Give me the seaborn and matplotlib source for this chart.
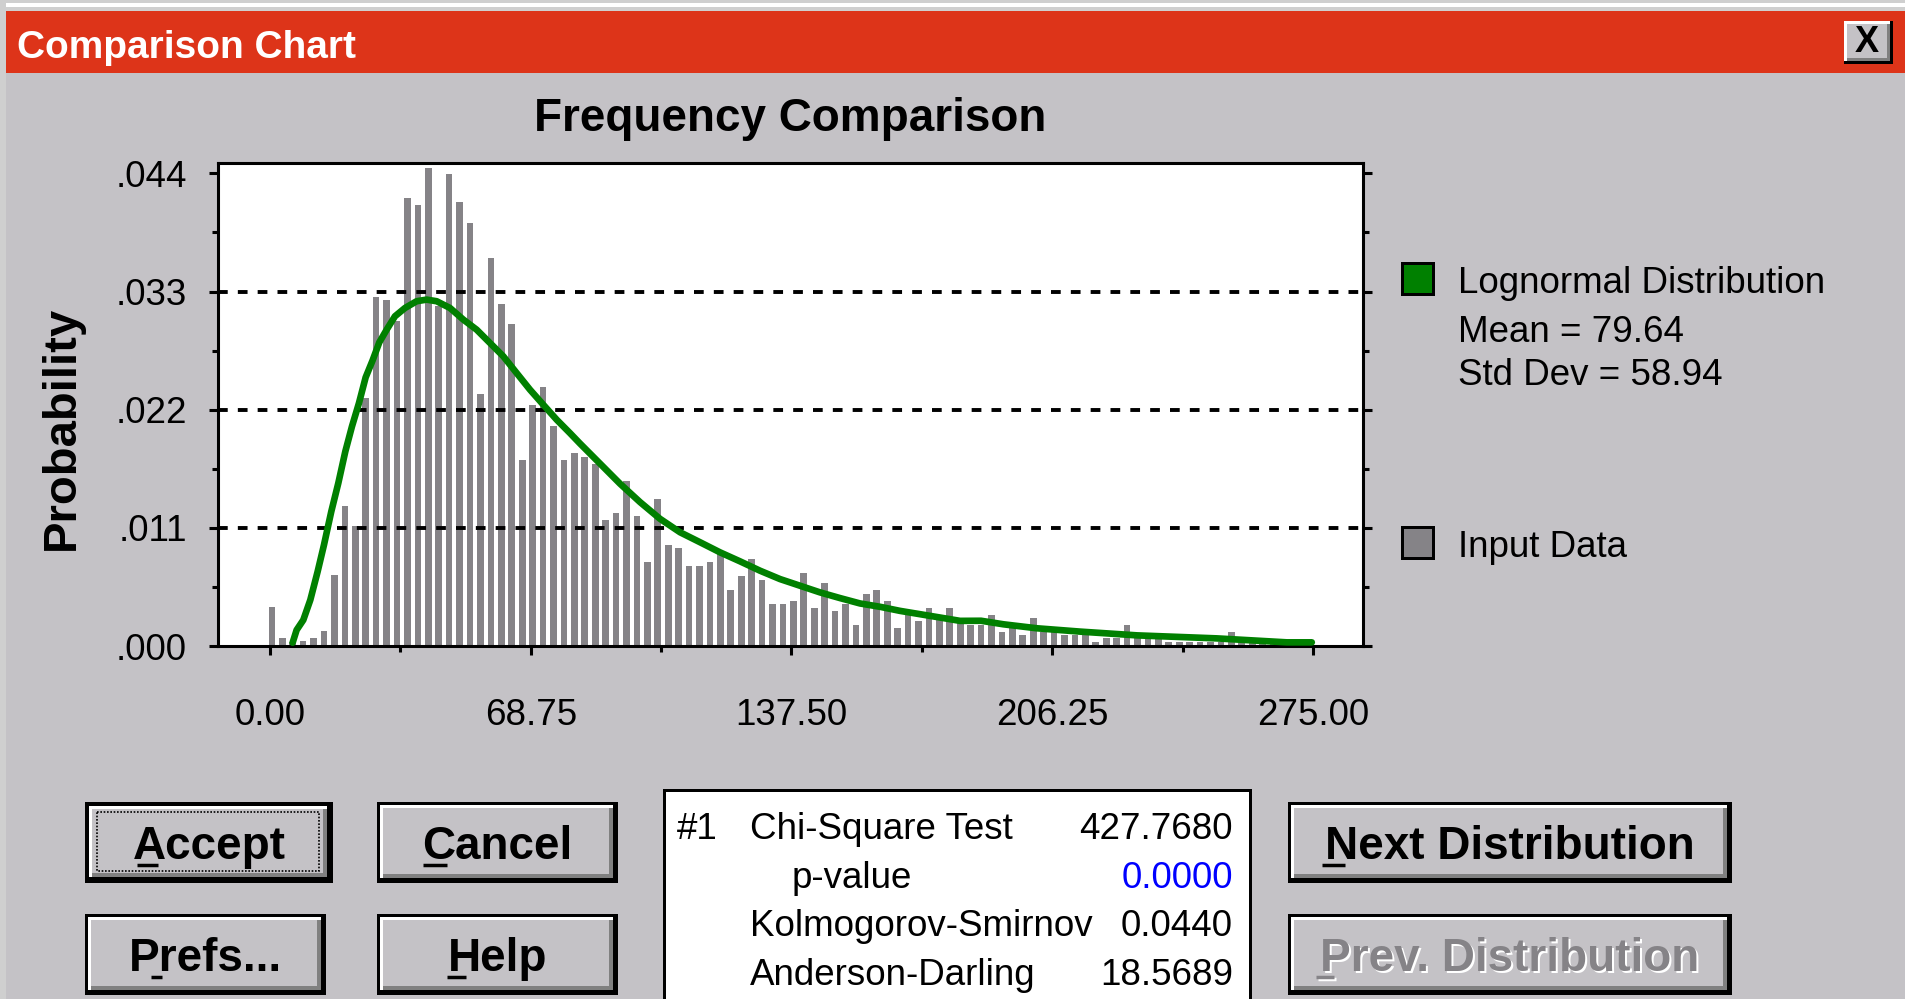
import numpy as np
import matplotlib
matplotlib.use('Agg')
import matplotlib.pyplot as plt
import seaborn as sns
from matplotlib.patches import Rectangle
from matplotlib.ticker import FixedLocator

# --- data ---
bin_width = 2.75
bin_pos = np.arange(100) * bin_width + 0.5
input_prob = [
    .00364, .00075, .0004, .00047, .00075, .0014, .00662, .01305, .01119, .02312,
    .03253, .03225, .03023, .04167, .04102, .04453, .03163, .04391, .04133, .03934,
    .02349, .03608, .03188, .02995, .01734, .02247, .02414, .02051, .01734, .01799,
    .01757, .01698, .01169, .01234, .01533, .01206, .00785, .01365, .00944, .00916,
    .00748, .00748, .00785, .00857, .00524, .00654, .00813, .00617, .00393, .00393,
    .00421, .00682, .00355, .00589, .00327, .00393, .00196, .00486, .00524, .00421,
    .00168, .00296, .00234, .00355, .0025, .00355, .0022, .00196, .00196, .00289,
    .0013, .00168, .00103, .00261, .0013, .0013, .00103, .00103, .00103, .00037,
    .0007, .0007, .00196, .0007, .0007, .0007, .00037, .00037, .00037, .00037,
    .00037, .00037, .0013, .00037, .00037, .0003, .0003, .0002, .0002, .0001,
]

# lognormal fit, points
curve_x = [5.98, 7.03, 8.79, 10.64, 12.57, 14.24, 16.17, 18.02, 19.87, 21.62,
           23.47, 25.23, 27.07, 28.83, 30.77, 32.96, 35.6, 38.68, 41.32, 43.95,
           47.47, 50.98, 54.5, 58.02, 61.53, 65.05, 68.57, 72.08, 75.6, 79.11,
           81.75, 87.03, 92.3, 97.57, 102.85, 108.12, 113.4, 118.67, 123.95, 129.22,
           134.5, 139.77, 145.04, 150.32, 155.6, 160.87, 166.14, 171.42, 176.69, 181.96,
           187.5, 193.4, 202.2, 213.6, 228.6, 249.6, 268.1, 274.7]
curve_y = [.00031, .00149, .00242, .00429, .00693, .00941, .01252, .01516, .01811, .02044,
           .02262, .02501, .0266, .02827, .02945, .0307, .03147, .0321, .03225, .0321,
           .03147, .03039, .02945, .02821, .02697, .02541, .02386, .02246, .02107, .01982,
           .01885, .01698, .01511, .0134, .01184, .01059, .00966, .00872, .00788, .00701,
           .00623, .00561, .00499, .00446, .00396, .00365, .00327, .00296, .00265, .00234,
           .00235, .00202, .00165, .00134, .00099, .00071, .00034, .00034]

y_ticks = [0, .011, .022, .033, .044]
y_labels = ['.000', '.011', '.022', '.033', '.044']
x_ticks = [0, 68.75, 137.5, 206.25, 275]
x_labels = ['0.00', '68.75', '137.50', '206.25', '275.00']

fit_name = 'Lognormal Distribution'
fit_mean = 79.64
fit_std = 58.94

test_names = ['Chi-Square Test', 'p-value', 'Kolmogorov-Smirnov', 'Anderson-Darling']
test_values = ['427.7680', '0.0000', '0.0440', '18.5689']

# --- style ---
sns.set_theme(style='white')
plt.rcParams['font.family'] = ['Liberation Sans', 'DejaVu Sans']
plt.rcParams['text.color'] = 'black'
plt.rcParams['xtick.color'] = 'black'
plt.rcParams['ytick.color'] = 'black'
fs = 26.5  # regular text

dlg_grey = '#c4c2c6'
bar_grey = '#858387'
green = '#008000'
red = '#dd3419'

fig = plt.figure(figsize=(19.05, 9.99), dpi=100, facecolor=dlg_grey)

# background / dialog chrome drawn in pixel coordinates
bg = fig.add_axes([0, 0, 1, 1])
bg.set_xlim(0, 1905)
bg.set_ylim(999, 0)
bg.axis('off')
bg.set_zorder(0)


def rect(x0, y0, x1, y1, color, **kw):
    bg.add_patch(Rectangle((x0, y0), x1 - x0, y1 - y0, facecolor=color,
                           edgecolor='none', **kw))


rect(0, 0, 1905, 999, dlg_grey)
rect(0, 0, 1905, 11, '#cfcfcf')
rect(0, 3, 1905, 7, 'white')
rect(0, 0, 6, 999, '#cfcfcf')
rect(6, 11, 1905, 73, red)
bg.text(17, 58, 'Comparison Chart', color='white', fontsize=28,
        fontweight='bold', va='baseline')

# close button
rect(1844, 21, 1893, 64, 'black')
rect(1844, 21, 1890, 61, 'white')
rect(1847, 24, 1890, 61, '#808080')
rect(1847, 24, 1887, 58, dlg_grey)
bg.text(1867, 43, 'X', fontsize=26, fontweight='bold', ha='center', va='center')


def button(x0, y0, x1, y1, label, ul, default=False, disabled=False):
    b = 4 if default else 3
    rect(x0, y0, x1, y1, 'black')
    rect(x0 + b, y0 + b, x1 - b - 2, y1 - b - 2, 'white')
    rect(x0 + b + 3, y0 + b + 3, x1 - b - 2, y1 - b - 2, '#808080')
    rect(x0 + b + 3, y0 + b + 3, x1 - b - 6, y1 - b - 6, dlg_grey)
    cx = (x0 + x1) / 2
    by = y1 - 24
    if disabled:
        bg.text(cx + 2, by + 2, label, color='white', fontsize=33,
                fontweight='bold', ha='center', va='baseline')
        bg.text(cx, by, label, color=bar_grey, fontsize=33,
                fontweight='bold', ha='center', va='baseline')
        bg.plot([ul[0] + 2, ul[1] + 2], [by + 8, by + 8], color='white', lw=2.5,
                solid_capstyle='butt')
        bg.plot(ul, [by + 6, by + 6], color=bar_grey, lw=2.5, solid_capstyle='butt')
    else:
        bg.text(cx, by, label, color='black', fontsize=33,
                fontweight='bold', ha='center', va='baseline')
        bg.plot(ul, [by + 6, by + 6], color='black', lw=2.5, solid_capstyle='butt')
    if default:
        bg.add_patch(Rectangle((x0 + 12, y0 + 10), x1 - x0 - 26, y1 - y0 - 22,
                               facecolor='none', edgecolor='black', lw=1.2,
                               linestyle=(0, (1, 1))))


button(85, 802, 333, 883, 'Accept', [137, 158], default=True)
button(377, 802, 618, 883, 'Cancel', [423, 447])
button(85, 914, 326, 995, 'Prefs...', [151, 162])
button(377, 914, 618, 995, 'Help', [447, 466])
button(1288, 802, 1732, 883, 'Next Distribution', [1322, 1345])
button(1288, 914, 1732, 995, 'Prev. Distribution', [1316, 1334], disabled=True)

# goodness-of-fit box
rect(663, 789, 1252, 1005, 'black')
rect(666, 792, 1249, 1005, 'white')
bg.text(677, 839, '#1', fontsize=fs, va='baseline')
row_base = [839, 888, 936, 985]
row_left = [750, 792, 750, 750]
for name, val, yb, xl in zip(test_names, test_values, row_base, row_left):
    bg.text(xl, yb, name, fontsize=fs, va='baseline')
    bg.text(1233, yb, val, fontsize=fs, va='baseline', ha='right',
            color='#0000ff' if name == 'p-value' else 'black')

# legend
rect(1401, 262, 1435, 296, 'black')
rect(1404, 265, 1432, 293, green)
rect(1401, 526, 1435, 560, 'black')
rect(1404, 529, 1432, 557, bar_grey)
bg.text(1458, 293, fit_name, fontsize=fs, va='baseline')
bg.text(1458, 342, f'Mean = {fit_mean:.2f}', fontsize=fs, va='baseline')
bg.text(1458, 385, f'Std Dev = {fit_std:.2f}', fontsize=fs, va='baseline')
bg.text(1458, 557, 'Input Data', fontsize=fs, va='baseline')

# chart title and y label
bg.text(790, 131, 'Frequency Comparison', fontsize=33, fontweight='bold',
        ha='center', va='baseline')
bg.text(62, 428, 'Probability', fontsize=34, fontweight='bold',
        ha='center', va='center', rotation=90)

# --- the chart ---
ax = fig.add_axes([218 / 1905, 1 - 646 / 999, (1363 - 218) / 1905, (646 - 163) / 999])
ax.set_zorder(2)
ax.set_facecolor('white')

sns.barplot(x=bin_pos, y=input_prob, native_scale=True, width=0.64,
            color=bar_grey, saturation=1, linewidth=0, errorbar=None, ax=ax,
            zorder=2)
for yv in y_ticks[1:4]:
    ax.axhline(yv, color='black', lw=2.8, dashes=(2.5, 2.6), zorder=3)
sns.lineplot(x=curve_x, y=curve_y, color=green, lw=4.8, ax=ax, zorder=4)

ax.set_xlim(-13.7, 288.2)
ax.set_ylim(0, 0.04497)
ax.set_xlabel('')
ax.set_ylabel('')

ax.xaxis.set_major_locator(FixedLocator(x_ticks))
ax.xaxis.set_minor_locator(FixedLocator([34.375, 103.125, 171.875, 240.625]))
ax.yaxis.set_major_locator(FixedLocator(y_ticks))
ax.yaxis.set_minor_locator(FixedLocator([.0055, .0165, .0275, .0385]))
ax.set_xticklabels(x_labels, fontsize=fs, color='black')
ax.set_yticklabels(y_labels, fontsize=fs, color='black')

ax.tick_params(which='both', direction='out', color='black', width=2.2,
               left=True, right=True, bottom=True, top=False)
ax.tick_params(which='major', length=6.5)
ax.tick_params(which='minor', length=4.3)
ax.tick_params(axis='x', which='major', pad=31)
ax.tick_params(axis='y', which='major', pad=16)

for s in ax.spines.values():
    s.set_color('black')
    s.set_linewidth(2.2)
    s.set_visible(True)

fig.savefig('out.png', dpi=100, facecolor=dlg_grey)
